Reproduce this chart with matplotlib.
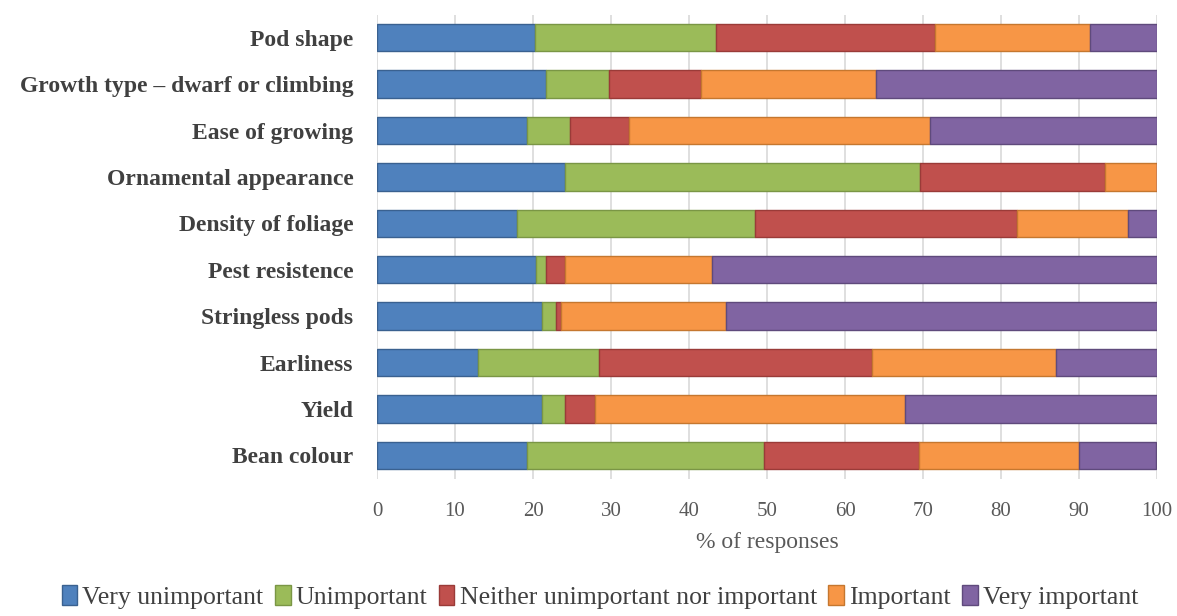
import numpy as np
import matplotlib.pyplot as plt

categories = [
    'Pod shape',
    'Growth type \u2013 dwarf or climbing',
    'Ease of growing',
    'Ornamental appearance',
    'Density of foliage',
    'Pest resistence',
    'Stringless pods',
    'Earliness',
    'Yield',
    'Bean colour',
]
series_names = ['Very unimportant', 'Unimportant',
                'Neither unimportant nor important', 'Important',
                'Very important']

very_unimportant = [20.3, 21.7, 19.2, 24.1, 18.0, 20.4, 21.1, 12.9, 21.1, 19.2]
unimportant = [23.2, 8.1, 5.6, 45.5, 30.5, 1.3, 1.8, 15.6, 3.0, 30.4]
neither = [28.0, 11.8, 7.5, 23.7, 33.6, 2.4, 0.7, 34.9, 3.9, 19.9]
important = [19.9, 22.4, 38.6, 6.7, 14.2, 18.8, 21.2, 23.6, 39.7, 20.5]
very_important = [8.6, 36.0, 29.1, 0.0, 3.7, 57.1, 55.2, 13.0, 32.3, 9.9]

colors = ['#4F81BD', '#9BBB59', '#C0504D', '#F79646', '#8064A2']
edges = ['#3A6190', '#7A9645', '#9A3B38', '#C5772F', '#5F4A7C']

serif = ['Liberation Serif', 'DejaVu Serif']
plt.rcParams['font.family'] = serif

fig = plt.figure(figsize=(11.77, 6.16), dpi=100)
ax = fig.add_axes([377 / 1177, 1 - 478.5 / 616, 780 / 1177, 464 / 616])

y = np.arange(len(categories))
left = np.zeros(len(categories))
all_series = [very_unimportant, unimportant, neither, important, very_important]
for vals, name, c, ec in zip(all_series, series_names, colors, edges):
    vals = np.array(vals)
    ax.barh(y, vals, left=left, height=0.59, color=c, edgecolor=ec,
            linewidth=1.0, label=name, zorder=3)
    left += vals

ax.set_xlim(0, 100)
ax.set_ylim(len(categories) - 0.5, -0.5)
ax.set_xticks(np.arange(0, 101, 10))
ax.set_yticks(y)
ax.set_yticklabels(categories, fontsize=17, fontweight='bold', color='#404040')
ax.tick_params(axis='x', labelsize=15, colors='#595959', length=0, pad=17)
ax.tick_params(axis='y', length=0, pad=17)
ax.grid(axis='x', color='#D9D9D9', linewidth=1.2, zorder=0)
for s in ax.spines.values():
    s.set_visible(False)
ax.set_xlabel('% of responses', fontsize=17, color='#595959', labelpad=8)

fig.legend(loc='center', bbox_to_anchor=(600 / 1177, 1 - 597 / 616), ncol=5,
           frameon=False, fontsize=18.5, handlelength=0.6, handleheight=0.8,
           handletextpad=0.2, columnspacing=0.45, labelcolor='#404040')

fig.savefig('out.png', dpi=100)
